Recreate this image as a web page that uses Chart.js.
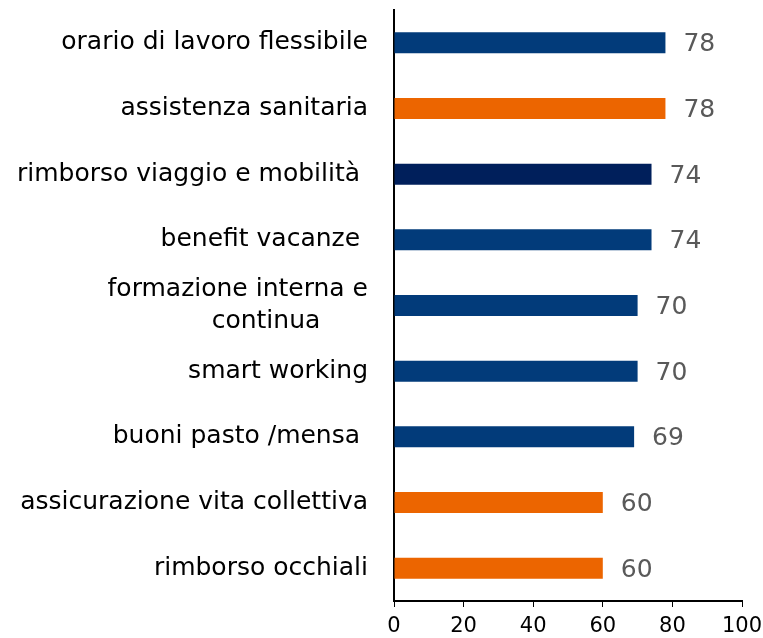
<!DOCTYPE html>
<html>
<head>
<meta charset="utf-8">
<script src="https://cdn.jsdelivr.net/npm/chart.js@4/dist/chart.umd.min.js"></script>
<style>
    html, body { margin: 0; padding: 0; background: #fff; }
    #wrap { width: 763px; height: 638px; }
</style>
</head>
<body>
<div id="wrap"><canvas id="chart1"></canvas></div>
<script>
const categories = [
    'orario di lavoro flessibile',
    'assistenza sanitaria',
    'rimborso viaggio e mobilità ',
    'benefit vacanze ',
    ['formazione interna e', 'continua      '],
    'smart working',
    'buoni pasto /mensa ',
    'assicurazione vita collettiva',
    'rimborso occhiali'
];
const values = [78, 78, 74, 74, 70, 70, 69, 60, 60];
const barColors = ['#023B7A', '#EC6500', '#001F5B', '#023B7A', '#023B7A', '#023B7A', '#023B7A', '#EC6500', '#EC6500'];
const xTicks = [0, 20, 40, 60, 80, 100];

const FONT = '"DejaVu Sans", sans-serif';

// etichette dei valori a destra delle barre
const valueLabels = {
    id: 'valueLabels',
    afterDatasetsDraw(chart) {
        const ctx = chart.ctx;
        const meta = chart.getDatasetMeta(0);
        ctx.save();
        ctx.font = '25px ' + FONT;
        ctx.fillStyle = '#595959';
        ctx.textAlign = 'left';
        ctx.textBaseline = 'middle';
        meta.data.forEach((bar, i) => {
            ctx.fillText(String(values[i]), bar.x + 18, bar.y + 2);
        });
        ctx.restore();
    }
};

new Chart('chart1', {
    type: 'bar',
    data: {
        labels: categories,
        datasets: [{
            data: values,
            backgroundColor: barColors,
            borderWidth: 0,
            barPercentage: 0.64,
            categoryPercentage: 0.5
        }]
    },
    options: {
        indexAxis: 'y',
        responsive: true,
        maintainAspectRatio: false,
        animation: false,
        layout: { padding: { top: 10, right: 21, bottom: 0, left: 0 } },
        plugins: {
            legend: { display: false },
            tooltip: { enabled: false }
        },
        scales: {
            x: {
                min: 0,
                max: 100,
                afterBuildTicks: (scale) => { scale.ticks = xTicks.map(v => ({ value: v })); },
                afterFit: (scale) => {
                    scale.height = 37;
                    scale.paddingLeft = 0;
                    scale.paddingRight = 0;
                },
                grid: {
                    drawOnChartArea: false,
                    drawTicks: true,
                    tickLength: 6,
                    color: '#000'
                },
                border: { color: '#000', width: 2 },
                ticks: {
                    color: '#000',
                    padding: 7,
                    maxRotation: 0,
                    font: { family: FONT, size: 21 }
                }
            },
            y: {
                afterFit: (scale) => {
                    scale.width = 394;
                    scale.paddingTop = 0;
                    scale.paddingBottom = 0;
                },
                grid: { drawOnChartArea: false, drawTicks: false },
                border: { color: '#000', width: 2 },
                ticks: {
                    color: '#000',
                    padding: 26,
                    autoSkip: false,
                    font: { family: FONT, size: 25, lineHeight: 1.28 }
                }
            }
        }
    },
    plugins: [valueLabels]
});
</script>
</body>
</html>
